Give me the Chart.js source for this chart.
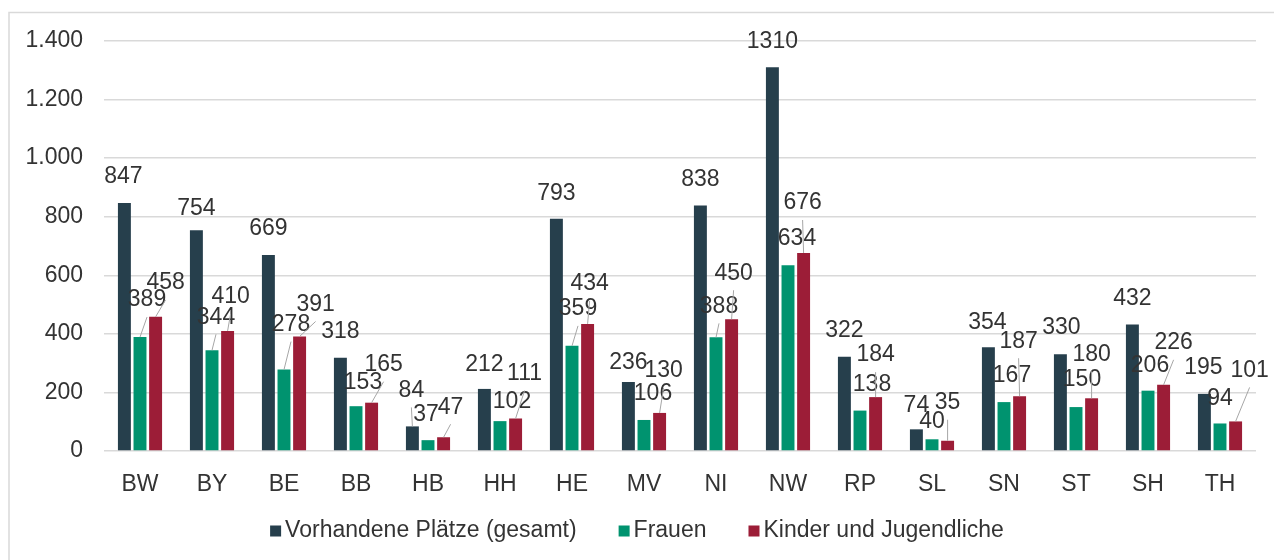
<!DOCTYPE html>
<html lang="de">
<head>
  <meta charset="UTF-8">
  <title>Vorhandene Plätze nach Bundesland</title>
  <script src="https://cdn.jsdelivr.net/npm/chart.js"></script>
  <style>
    body {
      margin: 0;
      background: #fff;
      overflow: hidden;
    }
    .chart-wrap {
      position: relative;
      width: 1274px;
      height: 560px;
    }
  </style>
</head>
<body>

  <div class="chart-wrap">
    <canvas id="myChart"></canvas>
  </div>

  <script>
    // Data
    const categories = ['BW', 'BY', 'BE', 'BB', 'HB', 'HH', 'HE', 'MV', 'NI', 'NW', 'RP', 'SL', 'SN', 'ST', 'SH', 'TH'];
    const seriesNames = ['Vorhandene Plätze (gesamt)', 'Frauen', 'Kinder und Jugendliche'];
    const placesTotal = [847, 754, 669, 318, 84, 212, 793, 236, 838, 1310, 322, 74, 354, 330, 432, 195];
    const women = [389, 344, 278, 153, 37, 102, 359, 106, 388, 634, 138, 40, 167, 150, 206, 94];
    const children = [458, 410, 391, 165, 47, 111, 434, 130, 450, 676, 184, 35, 187, 180, 226, 101];
    const yTicks = [0, 200, 400, 600, 800, 1000, 1200, 1400];

    // label placement (dx, dy from bar top centre), as hand-placed in the original
    const offsetsTotal = [[-1,-26],[0,-22],[0,-26],[0,-26],[-1,-36],[0,-24],[0,-25],[0,-19],[0,-26],[0,-26],[0,-26],[0,-24],[-1,-25],[1,-27],[0,-26],[-1,-26]];
    const offsetsWomen = [[7,-37],[4,-33],[7,-45],[7,-24],[-2,-26],[12,-19],[6,-37],[9,-26],[3,-31],[9,-27],[12,-26],[0,-18],[8,-26],[6,-27],[2,-25],[0,-25]];
    const offsetsChildren = [[10,-34],[3,-34],[16,-32],[12,-38],[7,-30],[9,-45],[2,-40],[4,-42],[2,-46],[-1,-50],[0,-42],[0,-38],[-1,-55],[0,-44],[10,-42],[14,-51]];

    const colors = ['#263F4C', '#00936F', '#9C1D37'];
    const FONT = "'Liberation Sans', Arial, sans-serif";
    const textColor = '#333333';

    function formatDE(v) {
      return String(v).replace(/\B(?=(\d{3})+(?!\d))/g, '.');
    }

    // light frame around the chart (the original is a cropped Excel chart)
    const framePlugin = {
      id: 'frame',
      beforeDraw(chart) {
        const ctx = chart.ctx;
        ctx.save();
        ctx.strokeStyle = '#d9d9d9';
        ctx.lineWidth = 1.5;
        ctx.beginPath();
        ctx.moveTo(9, chart.height);
        ctx.lineTo(9, 12.5);
        ctx.lineTo(chart.width, 12.5);
        ctx.stroke();
        ctx.restore();
      }
    };

    // value labels with leader lines
    const labelPlugin = {
      id: 'valueLabels',
      afterDatasetsDraw(chart) {
        const ctx = chart.ctx;
        const offsets = [offsetsTotal, offsetsWomen, offsetsChildren];
        ctx.save();
        ctx.font = '23px ' + FONT;
        ctx.textAlign = 'center';
        ctx.textBaseline = 'middle';

        chart.data.datasets.forEach((ds, di) => {
          const meta = chart.getDatasetMeta(di);
          meta.data.forEach((bar, i) => {
            const off = offsets[di][i];
            const cx = bar.x + off[0];
            const cy = bar.y + off[1];

            // Excel draws a leader when the label was dragged away from the bar
            if (off[1] <= -30) {
              const ty = cy + 17;
              if (bar.y - ty > 2) {
                ctx.strokeStyle = '#a6a6a6';
                ctx.lineWidth = 1;
                ctx.beginPath();
                ctx.moveTo(bar.x, bar.y);
                ctx.lineTo(cx, ty);
                ctx.stroke();
              }
            }
            ctx.fillStyle = textColor;
            ctx.fillText(String(ds.data[i]), cx, cy);
          });
        });
        ctx.restore();
      }
    };

    // legend drawn by hand so the spacing matches the Excel layout
    const legendPlugin = {
      id: 'bottomLegend',
      afterDraw(chart) {
        const ctx = chart.ctx;
        const box = 11, boxGap = 4, itemGap = 42, y = 531;
        ctx.save();
        ctx.font = '23px ' + FONT;
        ctx.textBaseline = 'middle';
        ctx.textAlign = 'left';
        const widths = chart.data.datasets.map(ds => box + boxGap + ctx.measureText(ds.label).width);
        const total = widths.reduce((a, b) => a + b, 0) + itemGap * (widths.length - 1);
        let x = chart.width / 2 - total / 2;
        chart.data.datasets.forEach((ds, i) => {
          ctx.fillStyle = ds.backgroundColor;
          ctx.fillRect(x, y - box / 2, box, box);
          ctx.fillStyle = textColor;
          ctx.fillText(ds.label, x + box + boxGap, y);
          x += widths[i] + itemGap;
        });
        ctx.restore();
      }
    };

    const ctx = document.getElementById('myChart').getContext('2d');

    const chart = new Chart(ctx, {
      type: 'bar',
      data: {
        labels: categories,
        datasets: [
          { label: seriesNames[0], data: placesTotal, backgroundColor: colors[0] },
          { label: seriesNames[1], data: women, backgroundColor: colors[1] },
          { label: seriesNames[2], data: children, backgroundColor: colors[2] }
        ]
      },
      options: {
        responsive: true,
        maintainAspectRatio: false,
        animation: false,
        layout: {
          padding: { top: 41, right: 18, bottom: 69, left: 0 }
        },
        datasets: {
          bar: {
            categoryPercentage: 0.65,
            barPercentage: 0.83
          }
        },
        plugins: {
          legend: { display: false },
          tooltip: { enabled: false }
        },
        scales: {
          x: {
            grid: { display: false },
            border: { display: false },
            ticks: {
              color: textColor,
              font: { family: FONT, size: 23 },
              padding: 12
            },
            afterFit(scale) {
              scale.height = 40;
            }
          },
          y: {
            min: 0,
            max: 1400,
            grid: {
              color: '#d9d9d9',
              lineWidth: 1.5,
              drawTicks: false
            },
            border: { display: false },
            afterBuildTicks(scale) {
              scale.ticks = yTicks.map(v => ({ value: v }));
            },
            ticks: {
              color: textColor,
              font: { family: FONT, size: 23 },
              padding: 21,
              callback: v => formatDE(v)
            },
            afterFit(scale) {
              scale.width = 104;
            }
          }
        }
      },
      plugins: [framePlugin, labelPlugin, legendPlugin]
    });
  </script>

</body>
</html>
